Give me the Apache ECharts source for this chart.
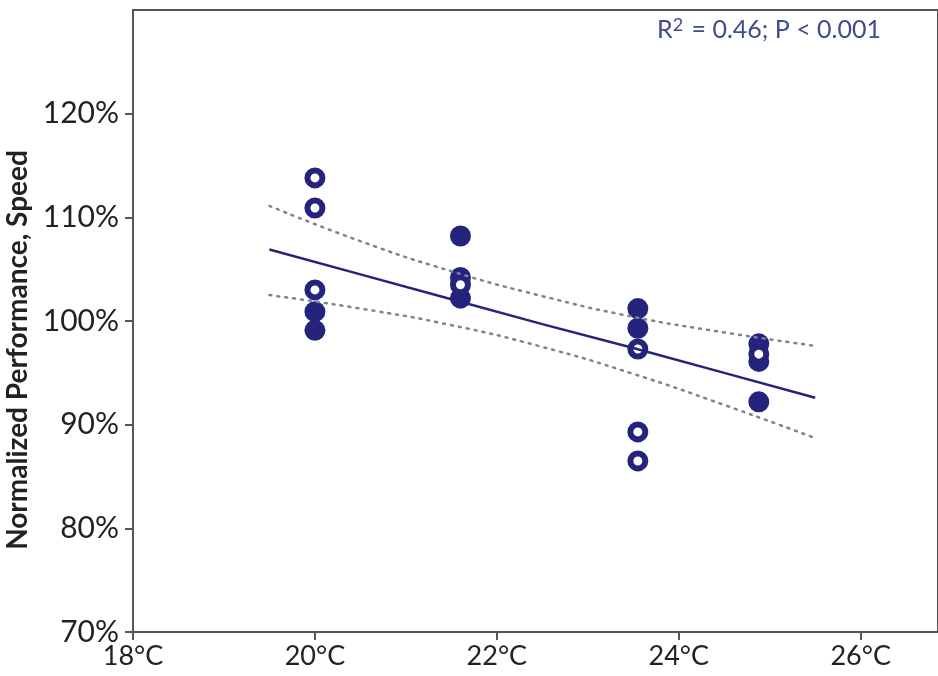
<!DOCTYPE html>
<html>
<head>
<meta charset="utf-8">
<script src="https://cdn.jsdelivr.net/npm/echarts@6/dist/echarts.min.js"></script>
<style>
  html, body { margin: 0; padding: 0; background: #fff; }
  #chart { width: 938px; height: 676px; }
</style>
</head>
<body>
<div id="chart"></div>
<script>
// temperature ticks (°C) and performance ticks (%)
const xTicks = [18, 20, 22, 24, 26];
const yTicks = [70, 80, 90, 100, 110, 120];

// observations: filled dots
const filledX = [20, 20, 21.6, 21.6, 21.6, 23.55, 23.55, 24.88, 24.88, 24.88];
const filledY = [100.9, 99.1, 108.2, 104.2, 102.2, 101.2, 99.3, 97.8, 96.1, 92.2];

// observations: open dots
const openX = [20, 20, 20, 21.6, 23.55, 23.55, 23.55, 24.88];
const openY = [113.8, 110.9, 103.0, 103.5, 97.3, 89.3, 86.5, 96.8];

// fit line and 95% band
const fitX = [19.5, 20.5, 21.5, 22.5, 23.5, 24.5, 25.5];
const fitY = [106.9, 104.5, 102.1, 99.7, 97.4, 95.0, 92.6];
const upperY = [111.1, 107.7, 104.8, 102.4, 100.4, 98.9, 97.6];
const lowerY = [102.5, 101.2, 99.6, 97.5, 94.9, 91.9, 88.7];

const navy = '#25247c';
const axisGray = '#555555';
const font = 'Lato, "Open Sans", sans-serif';

const pairs = (xs, ys) => xs.map((x, i) => [x, ys[i]]);

const chart = echarts.init(document.getElementById('chart'));

const option = {
    animation: false,
    title: {
        text: '{t|R}{s|2}{t| = 0.46; P < 0.001}',
        right: 52,
        top: 11,
        textStyle: {
            rich: {
                t: { fontFamily: font, fontSize: 25, fontWeight: 'normal', color: '#3e4b8e' },
                s: { fontFamily: font, fontSize: 18, fontWeight: 'normal', color: '#3e4b8e', verticalAlign: 'top', padding: [0, 2, 10, 0] },
            },
        },
    },
    grid: {
        left: 133,
        right: 0,
        top: 10,
        bottom: 44,
        outerBoundsMode: 'none',
        show: true,
        borderColor: axisGray,
        borderWidth: 2,
        backgroundColor: 'transparent',
    },
    xAxis: {
        type: 'value',
        min: 18,
        max: 26.85,
        axisLine: { lineStyle: { color: axisGray, width: 2 } },
        axisTick: { length: 8, lineStyle: { color: axisGray, width: 2 }, customValues: xTicks },
        axisLabel: {
            customValues: xTicks,
            formatter: v => v + '°C',
            fontFamily: font,
            fontSize: 27,
            color: '#222',
            margin: 11,
        },
        splitLine: { show: false },
    },
    yAxis: {
        type: 'value',
        min: 70,
        max: 130,
        interval: 10,
        name: 'Normalized Performance, Speed',
        nameLocation: 'middle',
        nameRotate: 90,
        nameGap: 100,
        nameTextStyle: {
            fontFamily: font,
            fontSize: 28,
            fontWeight: 'bold',
            color: '#222',
            padding: [0, 58, 0, 0],
        },
        axisLine: { lineStyle: { color: axisGray, width: 2 } },
        axisTick: { length: 8, lineStyle: { color: axisGray, width: 2 }, customValues: yTicks },
        axisLabel: {
            customValues: yTicks,
            formatter: v => v + '%',
            fontFamily: font,
            fontSize: 30,
            color: '#222',
            margin: 14,
        },
        splitLine: { show: false },
    },
    series: [
        {
            type: 'line',
            data: pairs(fitX, upperY),
            symbol: 'none',
            smooth: true,
            lineStyle: { color: '#80809a', width: 2.5, type: [2, 6], cap: 'round' },
        },
        {
            type: 'line',
            data: pairs(fitX, lowerY),
            symbol: 'none',
            smooth: true,
            lineStyle: { color: '#80809a', width: 2.5, type: [2, 6], cap: 'round' },
        },
        {
            type: 'line',
            data: pairs(fitX, fitY),
            symbol: 'none',
            lineStyle: { color: navy, width: 2.5 },
        },
        {
            type: 'scatter',
            data: pairs(filledX, filledY),
            symbolSize: 21,
            itemStyle: { color: navy, opacity: 1 },
        },
        {
            type: 'scatter',
            data: pairs(openX, openY),
            symbolSize: 15,
            itemStyle: { color: '#fff', borderColor: navy, borderWidth: 6, opacity: 1 },
        },
    ],
};

chart.setOption(option);
</script>
</body>
</html>
